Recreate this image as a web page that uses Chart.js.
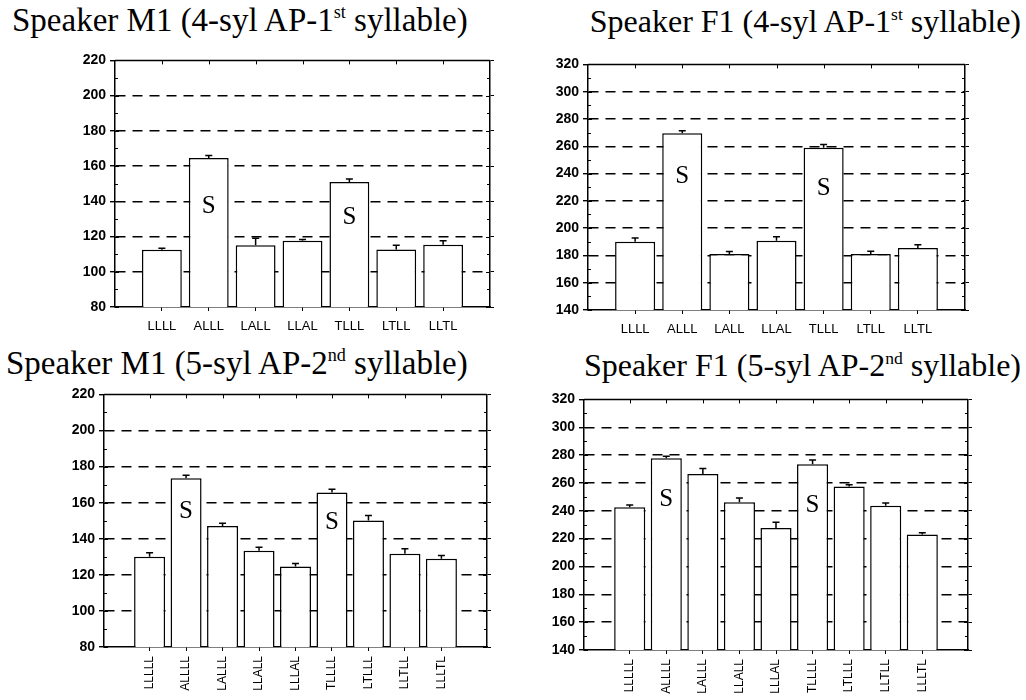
<!DOCTYPE html>
<html>
<head>
<meta charset="utf-8">
<script src="https://cdn.jsdelivr.net/npm/chart.js@4.4.1/dist/chart.umd.min.js"></script>
<style>
  body { margin: 0; background: #fff; }
  #page { position: relative; width: 1026px; height: 700px; overflow: hidden; }
  canvas { position: absolute; }
  .title {
    position: absolute;
    font-family: 'Liberation Serif', 'Times New Roman', serif;
    font-size: 33px;
    line-height: 33px;
    white-space: nowrap;
    color: #000;
  }
  .title.f1 { font-size: 32px; }
  .title sup { font-size: 0.55em; line-height: 0; vertical-align: 0.7em; }
</style>
</head>
<body>
<div id="page">
  <div class="title" style="left:12px; top:4px;">Speaker M1 (4-syl AP-1<sup>st</sup> syllable)</div>
  <div class="title f1" style="right:5px; top:5px;">Speaker F1 (4-syl AP-1<sup>st</sup> syllable)</div>
  <div class="title" style="left:6px; top:347px;">Speaker M1 (5-syl AP-2<sup>nd</sup> syllable)</div>
  <div class="title f1" style="right:5px; top:349px;">Speaker F1 (5-syl AP-2<sup>nd</sup> syllable)</div>
  <canvas id="m1-four" width="445" height="300" style="left:55px; top:48px;"></canvas>
  <canvas id="f1-four" width="447" height="299" style="left:528px; top:52px;"></canvas>
  <canvas id="m1-five" width="453" height="318" style="left:44px; top:382px;"></canvas>
  <canvas id="f1-five" width="454" height="313" style="left:524px; top:387px;"></canvas>
</div>
<script>
// categories
const cats4 = ['LLLL', 'ALLL', 'LALL', 'LLAL', 'TLLL', 'LTLL', 'LLTL'];
const cats5 = ['LLLLL', 'ALLLL', 'LALLL', 'LLALL', 'LLLAL', 'TLLLL', 'LTLLL', 'LLTLL', 'LLLTL'];

// mean F0 values (Hz) and upper error bar sizes
const m1Four = [112.5, 164.6, 115, 117.6, 151, 112.7, 115.3];
const m1FourErr = [0.8, 1.4, 4, 0.7, 1.7, 2.3, 2.3];
const f1Four = [190, 269.5, 181, 190.7, 259, 181, 185.4];
const f1FourErr = [2.7, 1.9, 1.8, 2.9, 2.3, 2, 2.4];
const m1Five = [130, 173.5, 147.1, 133.3, 124.6, 165.6, 150.1, 131.7, 128.9];
const m1FiveErr = [2.2, 1.7, 1.5, 2, 1.7, 1.8, 2.8, 2.7, 1.8];
const f1Five = [242.5, 277.8, 266.4, 246.1, 227.7, 273.5, 257.5, 243.7, 223];
const f1FiveErr = [1.7, 1.4, 4, 3.1, 4.1, 2.9, 1.2, 1.9, 1.2];

// y axis ranges
const m1Range = [80, 220];
const f1Range = [140, 320];

// bars marked with "S"
const stressed4 = ['ALLL', 'TLLL'];
const stressed5 = ['ALLLL', 'TLLLL'];

// draws top border, minor ticks, error bars and the S marks
const decor = {
  id: 'decor',
  afterDatasetsDraw(chart, args, opts) {
    const { ctx, chartArea: a } = chart;
    const x = chart.scales.x;
    const y = chart.scales.y;
    ctx.save();
    ctx.strokeStyle = '#000';

    // top border
    ctx.lineWidth = 1.5;
    ctx.beginPath();
    ctx.moveTo(a.left, a.top);
    ctx.lineTo(a.right, a.top);
    ctx.stroke();

    // inner ticks on left / right
    ctx.lineWidth = 1;
    for (let v = y.min; v <= y.max; v += 10) {
      const py = Math.round(y.getPixelForValue(v)) + 0.5;
      const len = (v - y.min) % 20 === 0 ? 4 : 3;
      ctx.beginPath();
      ctx.moveTo(a.left, py); ctx.lineTo(a.left + len, py);
      ctx.moveTo(a.right, py); ctx.lineTo(a.right - len, py);
      ctx.stroke();
    }
    // top ticks at categories
    opts.cats.forEach((c, i) => {
      const px = Math.round(x.getPixelForValue(i + 1)) + 0.5;
      ctx.beginPath();
      ctx.moveTo(px, a.top); ctx.lineTo(px, a.top + 4);
      ctx.stroke();
    });

    // error bars (upper half only)
    ctx.lineWidth = 1.5;
    opts.values.forEach((v, i) => {
      const px = x.getPixelForValue(i + 1);
      const p0 = y.getPixelForValue(v);
      const p1 = y.getPixelForValue(v + opts.errs[i]);
      ctx.beginPath();
      ctx.moveTo(px, p0); ctx.lineTo(px, p1);
      ctx.moveTo(px - 3.5, p1); ctx.lineTo(px + 3.5, p1);
      ctx.stroke();
    });

    // S labels
    ctx.fillStyle = '#000';
    ctx.font = '25px "Liberation Serif", "Times New Roman", serif';
    ctx.textAlign = 'center';
    ctx.textBaseline = 'middle';
    opts.stressed.forEach((name, k) => {
      const i = opts.cats.indexOf(name);
      ctx.fillText('S', x.getPixelForValue(i + 1), y.getPixelForValue(opts.stressAt[k]));
    });
    ctx.restore();
  }
};

function makePanel(id, cats, values, errs, range, stressed, stressAt, opt) {
  const ctx = document.getElementById(id);
  const n = cats.length;
  const pad = opt.rotate ? 1.25 : 1;

  return new Chart(ctx, {
    type: 'bar',
    data: {
      datasets: [{
        data: cats.map((c, i) => ({ x: i + 1, y: values[i] })),
        backgroundColor: '#fff',
        borderColor: '#000',
        borderWidth: 1.5,
        barPercentage: 0.85,
        categoryPercentage: 1
      }]
    },
    options: {
      responsive: false,
      animation: false,
      layout: { padding: 0 },
      scales: {
        x: {
          type: 'linear',
          offset: false,
          min: 1 - pad,
          max: n + pad,
          afterBuildTicks: s => { s.ticks = cats.map((c, i) => ({ value: i + 1 })); },
          afterFit: s => { s.height = opt.xh; },
          ticks: {
            autoSkip: false,
            maxRotation: opt.rotate ? 90 : 0,
            minRotation: opt.rotate ? 90 : 0,
            padding: opt.rotate ? 5 : 8,
            color: '#000',
            font: { family: '"Liberation Sans", Arial, sans-serif', size: opt.rotate ? 12 : 13 },
            callback: v => cats[v - 1] || ''
          },
          grid: { offset: false, drawOnChartArea: false, tickLength: 4, color: '#000', lineWidth: 1 },
          border: { color: '#000', width: 1.5 }
        },
        y: {
          min: range[0],
          max: range[1],
          afterFit: s => { s.width = opt.yw; },
          ticks: {
            stepSize: 20,
            padding: 4,
            color: '#000',
            font: { family: '"Liberation Sans", Arial, sans-serif', size: 14, weight: 'bold' }
          },
          grid: {
            color: c => (c.tick && (c.tick.value === range[0] || c.tick.value === range[1])) ? 'rgba(0,0,0,0)' : '#000',
            tickColor: '#000',
            lineWidth: 1.4,
            tickLength: 5
          },
          border: { color: '#000', width: 1.5, dash: [10, 7] }
        },
        y2: {
          position: 'right',
          min: range[0],
          max: range[1],
          afterFit: s => { s.width = opt.rw; },
          ticks: { display: false, stepSize: 20 },
          grid: { drawOnChartArea: false, color: '#000', tickLength: 4, lineWidth: 1 },
          border: { color: '#000', width: 1.5 }
        }
      },
      plugins: {
        legend: { display: false },
        tooltip: { enabled: false },
        decor: { cats: cats, values: values, errs: errs, stressed: stressed, stressAt: stressAt }
      }
    },
    plugins: [decor]
  });
}

makePanel('m1-four', cats4, m1Four, m1FourErr, m1Range, stressed4, [137.3, 130.6], { yw: 60, rw: 10, xh: 41, rotate: false });
makePanel('f1-four', cats4, f1Four, f1FourErr, f1Range, stressed4, [237.8, 229.4], { yw: 60, rw: 10, xh: 41, rotate: false });
makePanel('m1-five', cats5, m1Five, m1FiveErr, m1Range, stressed5, [155, 149], { yw: 60, rw: 10, xh: 53, rotate: true });
makePanel('f1-five', cats5, f1Five, f1FiveErr, f1Range, stressed5, [248.5, 243.7], { yw: 60, rw: 10, xh: 50, rotate: true });
</script>
</body>
</html>
